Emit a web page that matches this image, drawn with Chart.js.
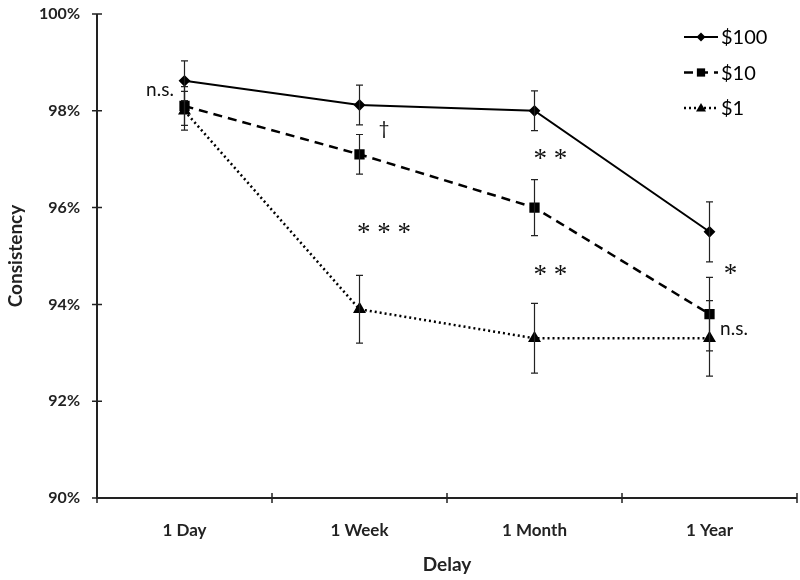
<!DOCTYPE html>
<html>
<head>
<meta charset="utf-8">
<script src="https://cdn.jsdelivr.net/npm/chart.js@4/dist/chart.umd.min.js"></script>
<style>
  html, body { margin: 0; padding: 0; background: #fff; }
  #wrap { width: 800px; height: 580px; position: relative; }
</style>
</head>
<body>
<div id="wrap"><canvas id="chart" width="800" height="580"></canvas></div>
<script>
/* ── Data ─────────────────────────────────────────────── */
const delays   = ["1 Day", "1 Week", "1 Month", "1 Year"];
const seriesNames = ["$100", "$10", "$1"];

const val100 = [98.62, 98.12, 98.0, 95.5];
const val10  = [98.1, 97.1, 96.0, 93.8];
const val1   = [98.0, 93.9, 93.3, 93.3];

const err100 = [0.41, 0.41, 0.41, 0.62];
const err10  = [0.40, 0.41, 0.58, 0.76];
const err1   = [0.40, 0.70, 0.72, 0.78];

const yTicks = [90, 92, 94, 96, 98, 100];

// significance notes: text, category position, value
const noteText = ["n.s.", "\u2020", "* *", "* * *", "* *", "*", "n.s."];
const noteCat  = [-0.14, 1.14, 2.09, 1.14, 2.09, 3.12, 3.14];
const noteVal  = [98.43, 97.62, 97.08, 95.55, 94.7, 94.72, 93.5];

const FONT = "Lato, 'Open Sans', sans-serif";

/* ── Plugins ──────────────────────────────────────────── */
const errorBars = {
  id: "errorBars",
  afterDatasetsDraw(chart) {
    const { ctx, scales: { x, y } } = chart;
    ctx.save();
    ctx.strokeStyle = "#222";
    ctx.lineWidth = 1.2;
    ctx.setLineDash([]);
    chart.data.datasets.forEach(ds => {
      ds.data.forEach((v, i) => {
        const px = x.getPixelForValue(i);
        const top = y.getPixelForValue(v + ds.errors[i]);
        const bot = y.getPixelForValue(v - ds.errors[i]);
        ctx.beginPath();
        ctx.moveTo(px, top); ctx.lineTo(px, bot);
        ctx.moveTo(px - 3.5, top); ctx.lineTo(px + 3.5, top);
        ctx.moveTo(px - 3.5, bot); ctx.lineTo(px + 3.5, bot);
        ctx.stroke();
      });
    });
    ctx.restore();
  }
};

const axisTicks = {
  id: "axisTicks",
  afterDraw(chart) {
    const { ctx, chartArea: a, scales: { x, y } } = chart;
    ctx.save();
    ctx.strokeStyle = "#222";
    ctx.lineWidth = 1.5;
    ctx.beginPath();
    yTicks.forEach(t => {
      const py = y.getPixelForValue(t);
      ctx.moveTo(a.left - 5, py); ctx.lineTo(a.left + 5, py);
    });
    for (let i = 0; i <= delays.length; i++) {
      const px = x.getPixelForValue(i - 0.5);
      ctx.moveTo(px, a.bottom - 5); ctx.lineTo(px, a.bottom + 5);
    }
    ctx.stroke();
    // axis lines
    ctx.lineWidth = 2;
    ctx.beginPath();
    ctx.moveTo(a.left, a.top); ctx.lineTo(a.left, a.bottom);
    ctx.lineTo(a.right, a.bottom);
    ctx.stroke();
    ctx.restore();
  }
};

const notes = {
  id: "notes",
  afterDraw(chart) {
    const { ctx, scales: { x, y } } = chart;
    const step = x.getPixelForValue(1) - x.getPixelForValue(0);
    ctx.save();
    ctx.fillStyle = "#111";
    ctx.textAlign = "center";
    ctx.textBaseline = "middle";
    noteText.forEach((t, i) => {
      const px = x.getPixelForValue(0) + noteCat[i] * step;
      const py = y.getPixelForValue(noteVal[i]);
      ctx.font = t.includes("*") ? "27px 'Liberation Serif', serif" : "19px " + FONT;
      ctx.fillText(t, px, t.includes("*") ? py + 5 : py);
    });
    ctx.restore();
  }
};

const legendBox = {
  id: "legendBox",
  afterDraw(chart) {
    const { ctx } = chart;
    ctx.save();
    chart.data.datasets.forEach((ds, i) => {
      const yy = 37 + i * 35.5;
      ctx.strokeStyle = "#000";
      ctx.lineWidth = ds.borderWidth;
      ctx.setLineDash(ds.borderDash || []);
      ctx.beginPath();
      ctx.moveTo(684, yy); ctx.lineTo(718, yy);
      ctx.stroke();
      ctx.setLineDash([]);
      ctx.fillStyle = "#000";
      const r = ds.pointRadius;
      ctx.beginPath();
      if (ds.pointStyle === "rectRot") {
        ctx.moveTo(701, yy - r); ctx.lineTo(701 + r, yy); ctx.lineTo(701, yy + r); ctx.lineTo(701 - r, yy);
      } else if (ds.pointStyle === "rect") {
        ctx.rect(701 - r * 0.75, yy - r * 0.75, r * 1.5, r * 1.5);
      } else {
        ctx.moveTo(701, yy - r); ctx.lineTo(701 + r, yy + r * 0.7); ctx.lineTo(701 - r, yy + r * 0.7);
      }
      ctx.closePath();
      ctx.fill();
      ctx.font = "20px " + FONT;
      ctx.textAlign = "left";
      ctx.textBaseline = "middle";
      ctx.fillText(ds.label, 721, yy + 1);
    });
    ctx.restore();
  }
};

/* ── Chart ────────────────────────────────────────────── */
const ctx = document.getElementById("chart").getContext("2d");

new Chart(ctx, {
  type: "line",
  data: {
    labels: delays,
    datasets: [
      { label: seriesNames[0], data: val100, errors: err100,
        borderColor: "#000", backgroundColor: "#000", borderWidth: 2,
        pointStyle: "rectRot", pointRadius: 4.5, tension: 0 },
      { label: seriesNames[1], data: val10, errors: err10,
        borderColor: "#000", backgroundColor: "#000", borderWidth: 2.5, borderDash: [9, 6],
        pointStyle: "rect", pointRadius: 5.5, tension: 0 },
      { label: seriesNames[2], data: val1, errors: err1,
        borderColor: "#000", backgroundColor: "#000", borderWidth: 2.5, borderDash: [2, 3],
        pointStyle: "triangle", pointRadius: 5, tension: 0 },
    ],
  },
  options: {
    responsive: false,
    animation: false,
    layout: { autoPadding: false, padding: { top: 14, right: 3, left: 0, bottom: 0 } },
    plugins: { legend: { display: false }, tooltip: { enabled: false } },
    scales: {
      x: {
        offset: true,
        grid: { display: false, drawTicks: false },
        border: { display: false },
        ticks: { color: "#222", font: { family: FONT, size: 17, weight: "bold" }, padding: 22 },
        title: { display: true, text: "Delay", color: "#222",
                 font: { family: FONT, size: 19, weight: "bold" }, padding: { top: 4 } },
        afterFit: s => { s.height = 82; },
      },
      y: {
        min: 90, max: 100,
        afterBuildTicks: s => { s.ticks = yTicks.map(v => ({ value: v })); },
        grid: { display: false, drawTicks: false },
        border: { display: false },
        ticks: { color: "#222", font: { family: FONT, size: 16, weight: "bold" }, padding: 17,
                 callback: v => v + "%" },
        title: { display: true, text: "Consistency", color: "#222",
                 font: { family: FONT, size: 19, weight: "bold" }, padding: { bottom: 0 } },
        afterFit: s => { s.width = 97; s.paddingTop = 0; },
      },
    },
  },
  plugins: [errorBars, axisTicks, notes, legendBox],
});
</script>
</body>
</html>
